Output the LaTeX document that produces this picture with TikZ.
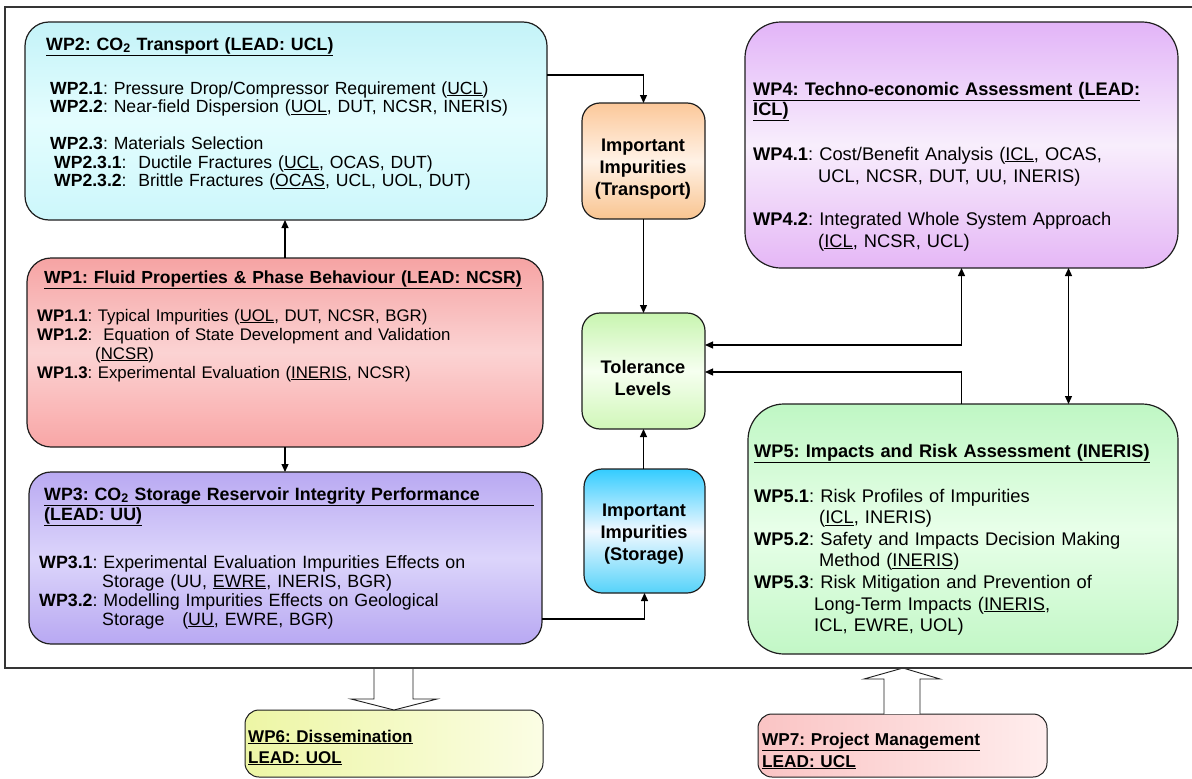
\documentclass[tikz,border=0pt]{standalone}
\usepackage{fontspec}
\setmainfont{Liberation Sans}
\usetikzlibrary{arrows.meta}
\lineskiplimit=-40pt
\lineskip=0pt
\frenchspacing
\definecolor{edge}{HTML}{1E1E1E}
\definecolor{c2a}{HTML}{C4F3F8}\definecolor{c2b}{HTML}{E4FDFE}\definecolor{c2c}{HTML}{CCF7FB}
\definecolor{c1a}{HTML}{F6A3A3}\definecolor{c1b}{HTML}{FBD3D3}\definecolor{c1c}{HTML}{F9A6A6}
\definecolor{c3a}{HTML}{B9A9F2}\definecolor{c3b}{HTML}{DCD5FB}\definecolor{c3c}{HTML}{B8A8F2}
\definecolor{cta}{HTML}{FCC89A}\definecolor{ctb}{HTML}{FFF2E6}\definecolor{ctc}{HTML}{F9C490}
\definecolor{cla}{HTML}{C8F5B0}\definecolor{clb}{HTML}{F6FFF0}\definecolor{clc}{HTML}{D0F7B8}
\definecolor{csa}{HTML}{33CCFF}\definecolor{csb}{HTML}{F0F8FF}\definecolor{csc}{HTML}{55D3FA}
\definecolor{c4a}{HTML}{E2B4F8}\definecolor{c4b}{HTML}{F8EEFC}\definecolor{c4c}{HTML}{E5B7F6}
\definecolor{c5a}{HTML}{BFF7C4}\definecolor{c5b}{HTML}{E8FFE9}\definecolor{c5c}{HTML}{C2F7C6}
\definecolor{c6a}{HTML}{EDF6A5}\definecolor{c6b}{HTML}{FBFDE4}
\definecolor{c7a}{HTML}{FAC4C4}\definecolor{c7b}{HTML}{FFEDED}
\begin{document}
\begin{tikzpicture}[x=1pt,y=-1pt,
  wpbox/.style={draw=edge, line width=1.2pt, inner sep=0pt, outer sep=0pt, anchor=north west},
  txt/.style={anchor=base west, inner sep=0pt, text width=#1, align=left},
  txt/.default=520pt,
  ctxt/.style={anchor=base, inner sep=0pt, text width=120pt, align=center, font=\fontsize{18.2}{22}\selectfont\bfseries},
  arr/.style={draw=black, line width=1.2pt, -{Triangle[length=8pt,width=7pt]}},
  darr/.style={draw=black, line width=1.2pt, {Triangle[length=8pt,width=7pt]}-{Triangle[length=8pt,width=7pt]}},
  blockarrow/.style={draw=edge, line width=0.9pt, fill=white},
  framel/.style={draw=edge!90, line width=1.4pt}
]
\useasboundingbox[fill=white] (0,0) rectangle (1192,779);

% ---------- boxes
\node[wpbox, rounded corners=24pt, minimum width=522pt, minimum height=198pt, top color=c2a, bottom color=c2c, middle color=c2b] (wp2) at (25,22) {};
\node[wpbox, rounded corners=24pt, minimum width=516pt, minimum height=189pt, top color=c1a, bottom color=c1c, middle color=c1b] (wp1) at (27,258) {};
\node[wpbox, rounded corners=22pt, minimum width=513pt, minimum height=172pt, top color=c3a, bottom color=c3c, middle color=c3b] (wp3) at (29,472) {};
\node[wpbox, rounded corners=18pt, minimum width=123pt, minimum height=116pt, top color=cta, bottom color=ctc, middle color=ctb] (tr) at (582,103) {};
\node[wpbox, rounded corners=18pt, minimum width=123pt, minimum height=116pt, top color=cla, bottom color=clc, middle color=clb] (tol) at (582,313) {};
\node[wpbox, rounded corners=18pt, minimum width=121pt, minimum height=124pt, top color=csa, bottom color=csc, middle color=csb] (st) at (584,469) {};
\node[wpbox, rounded corners=36pt, minimum width=433pt, minimum height=246pt, top color=c4a, bottom color=c4c, middle color=c4b] (wp4) at (745,22) {};
\node[wpbox, rounded corners=36pt, minimum width=430pt, minimum height=250pt, top color=c5a, bottom color=c5c, middle color=c5b] (wp5) at (748,404) {};
\node[wpbox, line width=1pt, rounded corners=14pt, minimum width=298pt, minimum height=67pt, left color=c6a, right color=c6b] (wp6) at (245,710) {};
\node[wpbox, line width=1pt, rounded corners=14pt, minimum width=289pt, minimum height=63pt, left color=c7a, right color=c7b] (wp7) at (758,714) {};

% ---------- texts
\node[txt, font=\fontsize{17.8}{19}\selectfont\bfseries] (wp2t) at (46,50) {\underline{WP2: CO\textsubscript{2} Transport (LEAD: UCL)}};
\node[txt, font=\fontsize{17.6}{18.5}\selectfont] (wp2b) at (50,94) {\textbf{WP2.1}: Pressure Drop/Compressor Requirement (\underline{UCL})\\
\textbf{WP2.2}: Near-field Dispersion (\underline{UOL}, DUT, NCSR, INERIS)\\[18.5pt]
\textbf{WP2.3}: Materials Selection\\
\hspace*{4pt}\textbf{WP2.3.1}:\ \ Ductile Fractures (\underline{UCL}, OCAS, DUT)\\
\hspace*{4pt}\textbf{WP2.3.2}:\ \ Brittle Fractures (\underline{OCAS}, UCL, UOL, DUT)};

\node[txt, font=\fontsize{17.5}{19}\selectfont\bfseries] (wp1t) at (44,283) {\underline{WP1: Fluid Properties \& Phase Behaviour (LEAD: NCSR)}};
\node[txt, font=\fontsize{16.8}{19}\selectfont] (wp1b) at (37,321) {\textbf{WP1.1}: Typical Impurities (\underline{UOL}, DUT, NCSR, BGR)\\
\textbf{WP1.2}:\ \ Equation of State Development and Validation\\
\hspace*{58pt}(\underline{NCSR})\\
\textbf{WP1.3}: Experimental Evaluation (\underline{INERIS}, NCSR)};

\node[txt, font=\fontsize{17.8}{20}\selectfont\bfseries] (wp3t) at (44,500) {\underline{\makebox[490pt][s]{WP3: CO\textsubscript{2} Storage Reservoir Integrity Performance}}\\
\underline{(LEAD: UU)}};
\node[txt, font=\fontsize{17.8}{19}\selectfont] (wp3b) at (39,568) {\textbf{WP3.1}: Experimental Evaluation Impurities Effects on\\
\hspace*{63pt}Storage (UU, \underline{EWRE}, INERIS, BGR)\\
\textbf{WP3.2}: Modelling Impurities Effects on Geological\\
\hspace*{63pt}Storage\ \ \ (\underline{UU}, EWRE, BGR)};

\node[txt=420pt, font=\fontsize{18.2}{20}\selectfont\bfseries] (wp4t) at (753,95) {\underline{WP4: Techno-economic Assessment (LEAD:}\\
\underline{ICL)}};
\node[txt=420pt, font=\fontsize{18.3}{22}\selectfont] (wp4b) at (753,160) {\textbf{WP4.1}: Cost/Benefit Analysis (\underline{ICL}, OCAS,\\
\hspace*{65pt}UCL, NCSR, DUT, UU, INERIS)\\[21pt]
\textbf{WP4.2}: Integrated Whole System Approach\\
\hspace*{65pt}(\underline{ICL}, NCSR, UCL)};

\node[txt=420pt, font=\fontsize{18.2}{20}\selectfont\bfseries] (wp5t) at (754,457) {\underline{WP5: Impacts and Risk Assessment (INERIS)}};
\node[txt=420pt, font=\fontsize{18.3}{21.6}\selectfont] (wp5b) at (754,502) {\textbf{WP5.1}: Risk Profiles of Impurities\\
\hspace*{65pt}(\underline{ICL}, INERIS)\\
\textbf{WP5.2}: Safety and Impacts Decision Making\\
\hspace*{65pt}Method (\underline{INERIS})\\
\textbf{WP5.3}: Risk Mitigation and Prevention of\\
\hspace*{60pt}Long-Term Impacts (\underline{INERIS},\\
\hspace*{60pt}ICL, EWRE, UOL)};

\node[ctxt] (trt) at (643,151) {Important\\Impurities\\(Transport)};
\node[ctxt] (tolt) at (643,373) {Tolerance\\Levels};
\node[ctxt] (stt) at (644,516) {Important\\Impurities\\(Storage)};

\node[txt=290pt, font=\fontsize{17}{21}\selectfont\bfseries] (wp6t) at (248,742) {\underline{WP6: Dissemination}\\
\underline{LEAD: UOL}};
\node[txt=280pt, font=\fontsize{17.2}{22}\selectfont\bfseries] (wp7t) at (762,745) {\underline{WP7: Project Management}\\
\underline{LEAD: UCL}};

% ---------- connectors
\draw[arr] ([yshift=-53pt]wp2.north east) -| (tr.north);
\draw[arr] (tr.south) -- (tol.north);
\draw[arr] (st.north -| tol.north) -- (tol.south);
\draw[arr] ([yshift=25pt]wp3.south east) -| (st.south);
\draw[arr] (wp1.north) -- (wp1.north |- wp2.south);
\draw[arr] (wp1.south) -- (wp1.south |- wp3.north);
\draw[darr] (wp4.south) |- ([yshift=26pt]tol.east);
\draw[arr] (wp5.north -| wp4.south) |- ([yshift=-1pt]tol.east);
\draw[darr] ([xshift=107pt]wp4.south) -- ([xshift=107pt]wp4.south |- wp5.north);

% ---------- block arrows
\draw[blockarrow] (374,668) -- (374,699) -- (351,699) -- (394,710) -- (437,699) -- (413,699) -- (413,668);
\draw[blockarrow] (884,714) -- (884,679) -- (864,679) -- (903,668) -- (940,679) -- (920,679) -- (920,714);

% ---------- frame
\draw[framel] (1195,7) -- (5,7) -- (5,668) -- (1195,668);
\end{tikzpicture}
\end{document}
